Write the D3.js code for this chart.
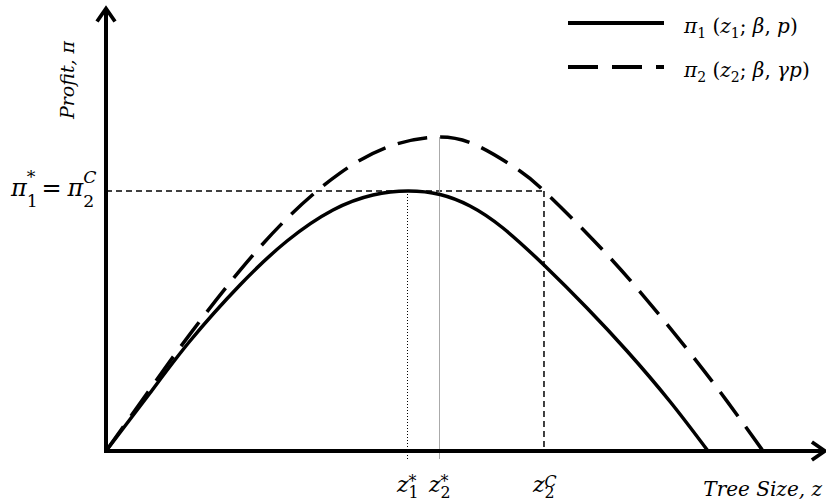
<!DOCTYPE html>
<html>
<head>
<meta charset="utf-8">
<script src="https://cdn.jsdelivr.net/npm/d3@7"></script>
<style>
  body { margin: 0; background: #fff; }
  text { font-family: "DejaVu Serif", serif; fill: #000; }
</style>
</head>
<body>
<svg id="chart" width="826" height="502"></svg>
<script>
// curve 1 (solid): profit pi1 against tree size z
var solidZ  = [0, 0.629, 1.2, 1.914, 2.586, 3.243, 3.814, 4.314, 4.771, 5.2, 5.671, 6.271, 6.871, 7.443, 8.057, 8.6];
var solidPi = [0, 1.933, 3.667, 5.533, 7.0, 8.033, 8.533, 8.667, 8.55, 8.167, 7.433, 6.167, 4.767, 3.333, 1.65, 0];
// curve 2 (dashed)
var dashZ  = [0, 0.629, 1.2, 1.914, 2.629, 3.343, 4.057, 4.771, 5.343, 5.914, 6.257, 6.957, 7.629, 8.3, 8.871, 9.386];
var dashPi = [0, 2.063, 3.897, 6.02, 7.853, 9.263, 10.163, 10.467, 10.133, 9.333, 8.667, 7.043, 5.307, 3.397, 1.663, 0];

// marked points
var z1Star = 4.314, z2Star = 4.771, z2C = 6.257;
var piStar = 8.667, pi2Peak = 10.467;
var xAxisEnd = 10.27, yAxisEnd = 14.75;

var legendLabels = [
  [{t:"π", i:1}, {t:"1", s:"sub"}, {t:" ("}, {t:"z", i:1}, {t:"1", s:"sub"}, {t:"; "}, {t:"β", i:1}, {t:", "}, {t:"p", i:1}, {t:")"}],
  [{t:"π", i:1}, {t:"2", s:"sub"}, {t:" ("}, {t:"z", i:1}, {t:"2", s:"sub"}, {t:"; "}, {t:"β", i:1}, {t:", "}, {t:"γp", i:1}, {t:")"}]
];
var markLabels = [[z1Star, "1", "*"], [z2Star, "2", "*"], [z2C, "2", "C"]];

var svg = d3.select("#chart");
var x = d3.scaleLinear().domain([0, 10]).range([106, 806]);
var y = d3.scaleLinear().domain([0, 12]).range([451, 91]);

var defs = svg.append("defs");
defs.append("marker")
  .attr("id", "arrow")
  .attr("viewBox", "0 0 24 24")
  .attr("refX", 18).attr("refY", 12)
  .attr("markerWidth", 24).attr("markerHeight", 24)
  .attr("markerUnits", "userSpaceOnUse")
  .attr("orient", "auto")
  .append("polyline")
  .attr("points", "5,3 18,12 5,21")
  .attr("fill", "none")
  .attr("stroke", "#000")
  .attr("stroke-width", 3.8);

// guide lines
svg.append("line")
  .attr("x1", x(0)).attr("x2", x(z2C))
  .attr("y1", y(piStar)).attr("y2", y(piStar))
  .attr("stroke", "#000").attr("stroke-width", 1.5)
  .attr("stroke-dasharray", "6,4");
svg.append("line")
  .attr("x1", x(z2C)).attr("x2", x(z2C))
  .attr("y1", y(piStar)).attr("y2", y(0))
  .attr("stroke", "#000").attr("stroke-width", 1.5)
  .attr("stroke-dasharray", "6,4");
svg.append("line")
  .attr("x1", x(z1Star)).attr("x2", x(z1Star))
  .attr("y1", y(piStar)).attr("y2", y(0) + 10)
  .attr("stroke", "#000").attr("stroke-width", 1)
  .attr("stroke-dasharray", "1,2")
  .attr("shape-rendering", "crispEdges");
svg.append("line")
  .attr("x1", x(z2Star)).attr("x2", x(z2Star))
  .attr("y1", y(pi2Peak)).attr("y2", y(0) + 8)
  .attr("stroke", "#aaa").attr("stroke-width", 1)
  .attr("shape-rendering", "crispEdges");

// curves
var line = d3.line()
  .x(function(d) { return x(d[0]); })
  .y(function(d) { return y(d[1]); })
  .curve(d3.curveNatural);

svg.append("path")
  .datum(d3.zip(solidZ, solidPi))
  .attr("d", line)
  .attr("fill", "none")
  .attr("stroke", "#000")
  .attr("stroke-width", 3.5);

svg.append("path")
  .datum(d3.zip(dashZ, dashPi))
  .attr("d", line)
  .attr("fill", "none")
  .attr("stroke", "#000")
  .attr("stroke-width", 3.5)
  .attr("stroke-dasharray", "30,13");

// axes
svg.append("line")
  .attr("x1", x(0)).attr("x2", x(0))
  .attr("y1", y(0) + 2).attr("y2", y(yAxisEnd))
  .attr("stroke", "#000").attr("stroke-width", 4)
  .attr("marker-end", "url(#arrow)");
svg.append("line")
  .attr("x1", x(0) - 2).attr("x2", x(xAxisEnd))
  .attr("y1", y(0)).attr("y2", y(0))
  .attr("stroke", "#000").attr("stroke-width", 4)
  .attr("marker-end", "url(#arrow)");

// text with sub/superscripts, sub and sup can stack
function mathText(g, parts, size, o) {
  o = o || {};
  var subY = o.sub != null ? o.sub : size * 0.3;
  var supY = o.sup != null ? o.sup : -size * 0.45;
  var ss = o.ss || 0.72;
  var t = g.append("text").attr("font-size", size);
  var cur = 0, lastW = 0;
  parts.forEach(function(p) {
    var target = p.s === "sub" ? subY : (p.s === "sup" ? supY : 0);
    var ts = t.append("tspan").text(p.t)
      .attr("font-style", p.i ? "italic" : "normal");
    if (p.s) ts.attr("font-size", size * ss);
    if (target !== cur) ts.attr("dy", target - cur);
    cur = target;
    if (p.dx) ts.attr("dx", p.dx);
    if (p.stack) ts.attr("dx", -lastW);
    lastW = ts.node().getComputedTextLength();
  });
  return t;
}

// legend
var legendY = [23, 67];
legendY.forEach(function(ly, i) {
  svg.append("line")
    .attr("x1", 568).attr("x2", 664)
    .attr("y1", ly).attr("y2", ly)
    .attr("stroke", "#000").attr("stroke-width", 4.2)
    .attr("stroke-dasharray", i === 0 ? null : "30,14");
  mathText(svg.append("g").attr("transform", "translate(684," + (ly + 10) + ")"),
    legendLabels[i], 20, {sub: 5, ss: 0.7});
});

// axis titles
mathText(svg.append("g").attr("transform", "translate(74,80) rotate(-90)"),
  [{t:"Profit, π", i:1}], 19).attr("text-anchor", "middle");
mathText(svg.append("g").attr("transform", "translate(822,496)"),
  [{t:"Tree Size, z", i:1}], 20).attr("text-anchor", "end");

// y marker label
mathText(svg.append("g").attr("transform", "translate(11," + (y(piStar) + 5) + ")"),
  [{t:"π", i:1}, {t:"1", s:"sub"}, {t:"*", s:"sup", stack:1},
   {t:"=", dx:6}, {t:"π", i:1, dx:6}, {t:"2", s:"sub"}, {t:"C", s:"sup", stack:1, i:1}],
  24, {sub: 11, sup: -13, ss: 0.72});

// x marker labels
markLabels.forEach(function(m) {
  mathText(svg.append("g").attr("transform", "translate(" + (x(m[0]) - 11) + ",492)"),
    [{t:"z", i:1}, {t:m[1], s:"sub"}, {t:m[2], s:"sup", stack:1, i: m[2] === "C"}],
    22, {sub: 6, sup: -5, ss: 0.72});
});
</script>
</body>
</html>
